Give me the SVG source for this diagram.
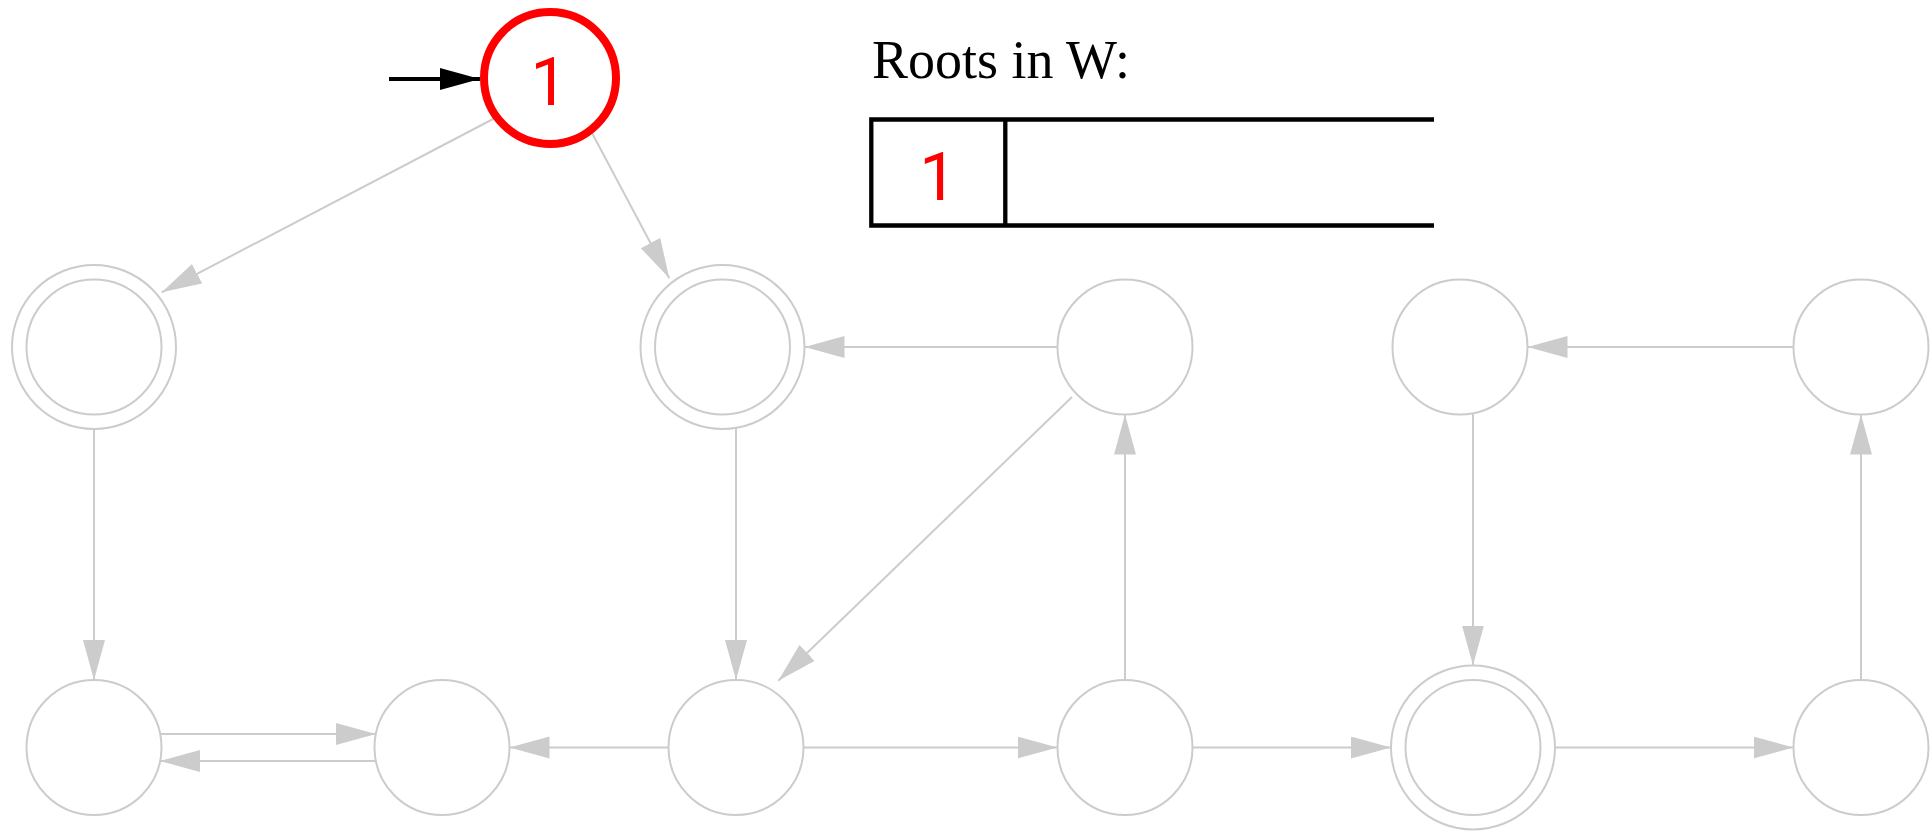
<svg xmlns="http://www.w3.org/2000/svg" width="1930" height="831" viewBox="0 0 1930 831">
<style>
.node{fill:#fff;stroke:#cccccc;stroke-width:2}
.edge{stroke:#cccccc;stroke-width:2;fill:none;marker-end:url(#ah)}
.lbl{font-family:Roboto,"Liberation Sans",Arial,sans-serif;fill:#ff0000;text-anchor:middle}
</style>
<defs>
<marker id="ah" markerUnits="userSpaceOnUse" markerWidth="42" markerHeight="23" refX="40" refY="11" orient="auto" viewBox="0 0 42 23">
<path d="M0,0 L40,11 L0,22 z" fill="#cccccc"/>
</marker>
<marker id="ahb" markerUnits="userSpaceOnUse" markerWidth="42" markerHeight="23" refX="40" refY="11" orient="auto" viewBox="0 0 42 23">
<path d="M0,0 L40,11 L0,22 z" fill="#000"/>
</marker>
</defs>
<rect width="1930" height="831" fill="#fff"/>
<g id="connectors">
<line class="edge" x1="495" y1="118" x2="161.7" y2="292.3"/>
<line class="edge" x1="592" y1="133" x2="669.3" y2="278.3"/>
<line class="edge" x1="1057.5" y1="347" x2="804.5" y2="347"/>
<line class="edge" x1="736" y1="428" x2="736" y2="680"/>
<line class="edge" x1="1072" y1="397" x2="778.3" y2="680.7"/>
<line class="edge" x1="1125" y1="680" x2="1125" y2="414.5"/>
<line class="edge" x1="94" y1="429" x2="94" y2="680"/>
<line class="edge" x1="160" y1="734" x2="376" y2="734"/>
<line class="edge" x1="376" y1="761" x2="160" y2="761"/>
<line class="edge" x1="668.5" y1="747.5" x2="509.5" y2="747.5"/>
<line class="edge" x1="803.5" y1="747.5" x2="1057.5" y2="747.5"/>
<line class="edge" x1="1192.5" y1="747.5" x2="1391" y2="747.5"/>
<line class="edge" x1="1540.5" y1="747.5" x2="1793.5" y2="747.5"/>
<line class="edge" x1="1473" y1="413" x2="1473" y2="665.5"/>
<line class="edge" x1="1793.5" y1="347" x2="1527.5" y2="347"/>
<line class="edge" x1="1861" y1="680" x2="1861" y2="414.5"/>
<line x1="389" y1="79" x2="480" y2="79" stroke="#000" stroke-width="4" marker-end="url(#ahb)"/>
</g>
<g id="n1">
<circle cx="550" cy="78" r="66" fill="#fff" stroke="#ff0000" stroke-width="8"/>
<text class="lbl" x="549" y="105" font-size="66">1</text>
</g>
<g id="nA"><circle class="node" cx="94" cy="347" r="82"/><circle class="node" cx="94" cy="347" r="67.5"/></g>
<g id="nB"><circle class="node" cx="722.5" cy="347" r="82"/><circle class="node" cx="722.5" cy="347" r="67.5"/></g>
<g id="nC"><circle class="node" cx="1125" cy="347" r="67.5"/></g>
<g id="nD"><circle class="node" cx="1460" cy="347" r="67.5"/></g>
<g id="nE"><circle class="node" cx="1861" cy="347" r="67.5"/></g>
<g id="nF"><circle class="node" cx="94" cy="747.5" r="67.5"/></g>
<g id="nG"><circle class="node" cx="442" cy="747.5" r="67.5"/></g>
<g id="nH"><circle class="node" cx="736" cy="747.5" r="67.5"/></g>
<g id="nI"><circle class="node" cx="1125" cy="747.5" r="67.5"/></g>
<g id="nJ"><circle class="node" cx="1473" cy="747.5" r="82"/><circle class="node" cx="1473" cy="747.5" r="67.5"/></g>
<g id="nK"><circle class="node" cx="1861" cy="747.5" r="67.5"/></g>
<g id="roots">
<text x="872" y="78" font-family="'Liberation Serif','Times New Roman',serif" font-size="54" fill="#000">Roots in W:</text>
<path d="M1434,119.5 H871.3 V225.5 H1434 M1005.3,119.5 V225.5" fill="none" stroke="#000" stroke-width="4.3"/>
<text class="lbl" x="938" y="200" font-size="67">1</text>
</g>
</svg>
